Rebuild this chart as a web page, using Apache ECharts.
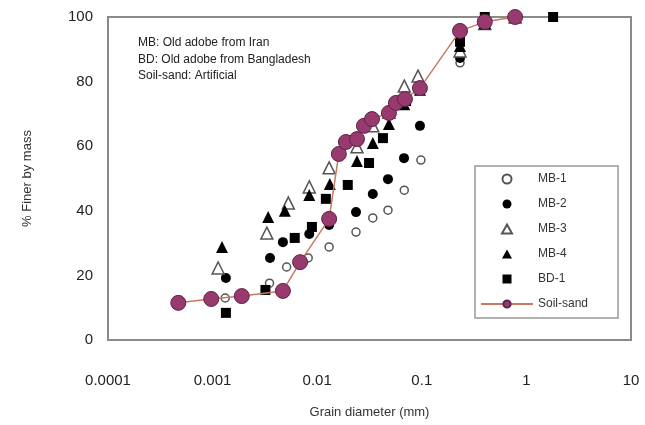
<!DOCTYPE html>
<html>
<head>
<meta charset="utf-8">
<script src="https://cdn.jsdelivr.net/npm/echarts@6/dist/echarts.min.js"></script>
<style>
  html, body { margin: 0; padding: 0; background: #fff; }
  #chart { width: 645px; height: 425px; }
</style>
</head>
<body>
<div id="chart"></div>
<script>
// grain size distributions
const xTicks = ['0.0001', '0.001', '0.01', '0.1', '1', '10'];

const mb1X = [0.00132, 0.0035, 0.0051, 0.0082, 0.013, 0.0235, 0.034, 0.0475, 0.068, 0.098, 0.232, 0.40, 0.78];
const mb1Y = [13.0, 17.6, 22.6, 25.4, 28.8, 33.4, 37.8, 40.2, 46.4, 55.7, 85.8, 98, 100];

const mb2X = [0.00134, 0.00354, 0.0047, 0.0084, 0.013, 0.0235, 0.034, 0.0475, 0.0676, 0.096, 0.232, 0.40, 0.78];
const mb2Y = [19.2, 25.4, 30.3, 32.8, 35.6, 39.6, 45.2, 49.8, 56.3, 66.3, 87.3, 98, 100];

const mb3X = [0.00113, 0.0033, 0.0053, 0.0084, 0.013, 0.024, 0.034, 0.0485, 0.068, 0.092, 0.232, 0.40, 0.78];
const mb3Y = [22.3, 33.1, 42.4, 47.4, 53.3, 59.8, 66.3, 70.5, 78.6, 81.7, 89.5, 98, 100];

const mb4X = [0.00123, 0.0034, 0.0049, 0.0084, 0.0132, 0.024, 0.034, 0.0485, 0.068, 0.096, 0.232, 0.40, 0.78];
const mb4Y = [28.8, 38.1, 40.0, 44.9, 48.3, 55.4, 61.0, 66.9, 73.0, 77.5, 91.0, 98, 100];

const bd1X = [0.00134, 0.0032, 0.0061, 0.0089, 0.0121, 0.0196, 0.0313, 0.0425, 0.0707, 0.096, 0.232, 0.40, 1.8];
const bd1Y = [8.4, 15.5, 31.6, 35.0, 43.7, 48.0, 54.8, 62.5, 74.0, 78.3, 92.3, 100, 100];

const soilX = [0.00047, 0.00097, 0.0019, 0.0047, 0.00686, 0.013, 0.0161, 0.0188, 0.024, 0.028, 0.0334, 0.0485, 0.0566, 0.069, 0.096, 0.232, 0.40, 0.78];
const soilY = [11.5, 12.7, 13.6, 15.2, 24.1, 37.5, 57.6, 61.3, 62.2, 66.3, 68.4, 70.3, 73.4, 74.6, 78.0, 95.7, 98.5, 100];

const notes = ['MB: Old adobe from Iran', 'BD: Old adobe from Bangladesh', 'Soil-sand: Artificial'];

const TRI = 'path://M5,0 L10,9 L0,9 Z';
const SQ = 'path://M0,0 L10,0 L10,10 L0,10 Z';

function pairs(xs, ys) {
  return xs.map((x, i) => [x, ys[i]]);
}

const chart = echarts.init(document.getElementById('chart'));
const font = 'Liberation Sans, Arial, sans-serif';

const option = {
  animation: false,
  textStyle: { fontFamily: font },
  grid: {
    left: 108, right: 14, top: 17, bottom: 85,
    show: true, borderColor: '#8a8a8a', borderWidth: 2
  },
  xAxis: {
    type: 'log',
    logBase: 10,
    min: 0.0001,
    max: 10,
    name: 'Grain diameter (mm)',
    nameLocation: 'middle',
    nameGap: 66,
    nameTextStyle: { fontSize: 13, color: '#333', fontFamily: font },
    axisLine: { show: false },
    axisTick: { show: false },
    splitLine: { show: false },
    minorTick: { show: false },
    axisLabel: {
      margin: 33,
      fontSize: 15,
      color: '#222',
      formatter: function (v) {
        const s = String(Number(v.toPrecision(1)));
        return xTicks.indexOf(s) >= 0 ? s : '';
      }
    }
  },
  yAxis: {
    type: 'value',
    min: 0,
    max: 100,
    interval: 20,
    name: '% Finer by mass',
    nameLocation: 'middle',
    nameGap: 74,
    nameRotate: 90,
    nameTextStyle: { fontSize: 13, color: '#333', fontFamily: font },
    axisLine: { show: false },
    axisTick: { show: false },
    splitLine: { show: false },
    axisLabel: { margin: 15, fontSize: 15, color: '#222' }
  },
  legend: {
    orient: 'vertical',
    left: 475,
    top: 166,
    padding: [7, 30, 8, 5],
    borderColor: '#999',
    borderWidth: 1.5,
    backgroundColor: '#fff',
    itemWidth: 52,
    itemHeight: 9,
    itemGap: 13,
    symbolKeepAspect: true,
    textStyle: { fontSize: 12, color: '#333', fontFamily: font },
    data: [
      { name: 'MB-1', icon: 'circle' },
      { name: 'MB-2', icon: 'circle' },
      { name: 'MB-3', icon: TRI },
      { name: 'MB-4', icon: TRI },
      { name: 'BD-1', icon: SQ },
      { name: 'Soil-sand' }
    ]
  },
  graphic: notes.map((t, i) => ({
    type: 'text',
    left: 138,
    top: 37 + i * 16.5,
    style: { text: t, fontSize: 12, fill: '#222', fontFamily: font }
  })),
  series: [
    {
      name: 'MB-1', type: 'scatter', symbol: 'circle', symbolSize: 8,
      itemStyle: { color: '#fff', borderColor: '#555', borderWidth: 1.5, opacity: 1 },
      data: pairs(mb1X, mb1Y), z: 2
    },
    {
      name: 'MB-2', type: 'scatter', symbol: 'circle', symbolSize: 10,
      itemStyle: { color: '#000', opacity: 1 },
      data: pairs(mb2X, mb2Y), z: 2
    },
    {
      name: 'MB-3', type: 'scatter', symbol: 'triangle', symbolSize: 12,
      itemStyle: { color: '#fff', borderColor: '#555', borderWidth: 1.5, opacity: 1 },
      data: pairs(mb3X, mb3Y), z: 2
    },
    {
      name: 'MB-4', type: 'scatter', symbol: 'triangle', symbolSize: 12,
      itemStyle: { color: '#000', opacity: 1 },
      data: pairs(mb4X, mb4Y), z: 2
    },
    {
      name: 'BD-1', type: 'scatter', symbol: 'rect', symbolSize: 10,
      itemStyle: { color: '#000', opacity: 1 },
      data: pairs(bd1X, bd1Y), z: 2
    },
    {
      name: 'Soil-sand', type: 'line', symbol: 'circle', symbolSize: 15,
      lineStyle: { color: '#c77a5e', width: 1.5 },
      itemStyle: { color: '#983a6e', borderColor: '#5e2447', borderWidth: 1 },
      data: pairs(soilX, soilY), z: 3
    }
  ]
};

chart.setOption(option);
</script>
</body>
</html>
